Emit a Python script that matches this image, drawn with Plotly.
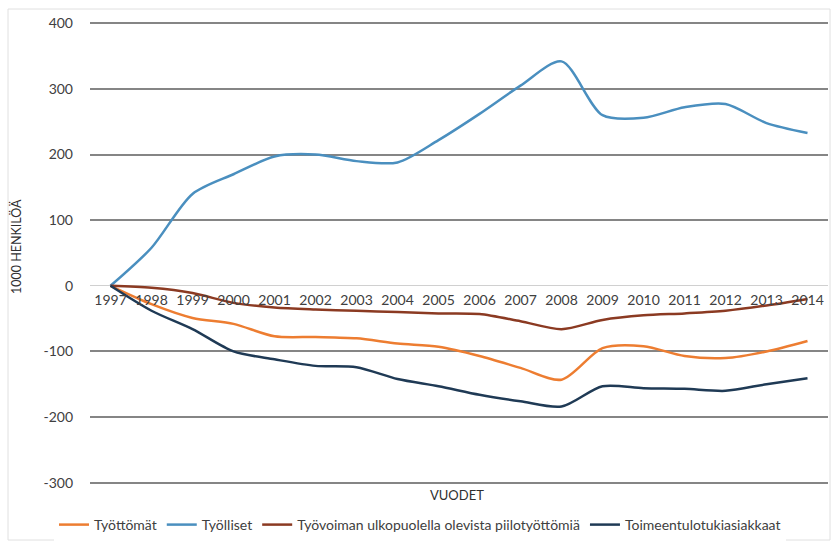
import plotly.graph_objects as go

years = ["1997", "1998", "1999", "2000", "2001", "2002", "2003", "2004", "2005",
         "2006", "2007", "2008", "2009", "2010", "2011", "2012", "2013", "2014"]

tyottomat = [0, -28, -49, -58, -77, -78, -80, -88, -93, -107, -125, -143, -95, -92, -107, -110, -100, -84]
tyolliset = [0, 58, 140, 170, 197, 200, 190, 188, 222, 262, 305, 342, 260, 256, 272, 277, 248, 233]
piilotyottomat = [0, -3, -11, -26, -33, -36, -38, -40, -42, -43, -54, -66, -52, -45, -42, -38, -30, -20]
toimeentulo = [0, -38, -66, -100, -112, -122, -124, -142, -153, -166, -176, -184, -153, -156, -157, -160, -150, -141]

series_names = ["Työttömät", "Työlliset",
                "Työvoiman ulkopuolella olevista piilotyöttömiä",
                "Toimeentulotukiasiakkaat"]
series_values = [tyottomat, tyolliset, piilotyottomat, toimeentulo]
series_colors = ["#ED7D31", "#4A8FBF", "#8B3A22", "#1F3A55"]

y_ticks = [-300, -200, -100, 0, 100, 200, 300, 400]
y_tick_labels = ["-300", "-200", "-100", "0", "100", "200", "300", "400"]

FONT = "Lato, Open Sans, sans-serif"
TOP, BOT = 22, 484
H = BOT - TOP
LEFT, RIGHT = 90, 828
W = RIGHT - LEFT


def px_x(x):
    return (x - LEFT) / W


def px_y(y):
    return (BOT - y) / H


fig = go.Figure()
for name, vals, col in zip(series_names, series_values, series_colors):
    fig.add_trace(go.Scatter(
        x=years, y=vals, name=name, mode="lines",
        line=dict(color=col, width=2.5, shape="spline", smoothing=0.8),
    ))

fig.update_layout(
    width=834, height=547,
    margin=dict(l=LEFT, r=834 - RIGHT, t=TOP, b=547 - BOT, autoexpand=False),
    paper_bgcolor="white", plot_bgcolor="white",
    font=dict(family=FONT, size=14, color="#404040"),
    showlegend=True,
    legend=dict(orientation="h", x=px_x(420), xanchor="center",
                y=px_y(525), yanchor="middle",
                font=dict(size=14, color="#404040"), itemwidth=30, tracegroupgap=0),
    xaxis=dict(
        type="category", range=[-0.5, len(years) - 0.5],
        anchor="free", position=302 / 704,
        showgrid=False, showline=False, zeroline=False,
        ticks="", ticklabelstandoff=4,
        tickfont=dict(size=14, color="#404040"),
    ),
    yaxis=dict(
        range=[-302, 402], domain=[0, 1],
        tickvals=y_ticks, ticktext=y_tick_labels,
        showgrid=True, gridcolor="#858585", gridwidth=2,
        zeroline=True, zerolinecolor="#D0D0D0", zerolinewidth=1,
        showline=False, ticks="", ticklabelstandoff=16,
        tickfont=dict(size=14, color="#404040"),
    ),
    annotations=[
        dict(text="1000 HENKILÖÄ", xref="paper", yref="paper", x=px_x(16),
             y=px_y(247), textangle=-90, showarrow=False,
             font=dict(size=12.5, color="#303030"),
             xanchor="center", yanchor="middle"),
        dict(text="VUODET", xref="paper", yref="paper", x=px_x(457),
             y=px_y(495), showarrow=False, font=dict(size=13, color="#303030"),
             xanchor="center", yanchor="middle"),
    ],
    shapes=[
        dict(type="rect", xref="paper", yref="paper",
             x0=px_x(8), x1=px_x(830), y0=px_y(540), y1=px_y(9),
             line=dict(color="#E0E0E0", width=1), layer="below"),
    ],
)

fig.write_html("out.html", config={"displayModeBar": False},
               post_script="document.body.style.margin='0';")
